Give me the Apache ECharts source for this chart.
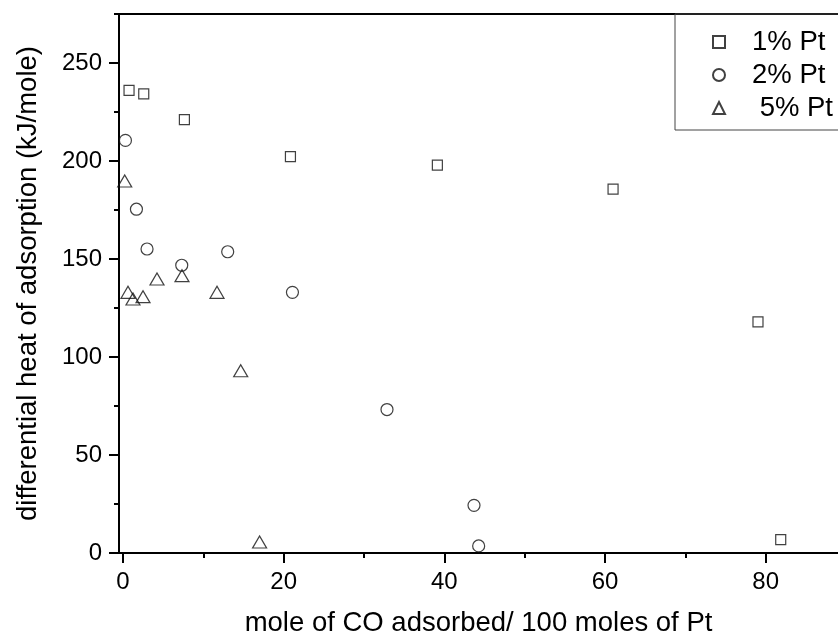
<!DOCTYPE html>
<html>
<head>
<meta charset="utf-8">
<script src="https://cdn.jsdelivr.net/npm/echarts@6/dist/echarts.min.js"></script>
<style>
html,body{margin:0;padding:0;background:#fff;}
#c{width:838px;height:642px;}
</style>
</head>
<body>
<div id="c"></div>
<script>
const seriesNames = ['1% Pt', '2% Pt', ' 5% Pt'];
const pt1 = [[0.75,236.0],[2.58,234.2],[7.64,221.1],[20.84,202.2],[39.13,197.9],[61.0,185.7],[79.04,117.9],[81.87,6.8]];
const pt2 = [[0.3,210.5],[1.67,175.4],[2.99,155.1],[7.31,146.8],[13.03,153.7],[21.09,133.0],[32.86,73.2],[43.69,24.3],[44.27,3.6]];
const pt5 = [[0.21,189.8],[0.62,133.0],[1.24,129.6],[2.49,130.8],[4.23,139.8],[7.34,141.5],[11.7,133.0],[14.65,93.0],[17.0,5.6]];
const xMajor = [0, 20, 40, 60, 80];
const xMinor = [10, 30, 50, 70];
const yMajor = [0, 50, 100, 150, 200, 250];
const yMinor = [25, 75, 125, 175, 225, 275];

const FONT = 'Liberation Sans, Arial, sans-serif';
const chart = echarts.init(document.getElementById('c'), null, {renderer: 'canvas'});
const markerStyle = {color: 'rgba(255,255,255,0)', borderColor: '#111', borderWidth: 1.2};
const axisLineStyle = {color: '#000', width: 2};

chart.setOption({
  animation: false,
  textStyle: {fontFamily: FONT, color: '#000'},
  grid: {left: 119, right: 0, top: 14, bottom: 87, containLabel: false},
  legend: {
    data: seriesNames,
    orient: 'vertical',
    left: 675, top: 14,
    padding: [14, 30, 8, 37],
    itemGap: 5,
    itemWidth: 12, itemHeight: 12,
    borderColor: '#444', borderWidth: 1,
    textStyle: {fontSize: 27.5, color: '#000', fontFamily: FONT, padding: [0, 0, 0, 22]},
    selectedMode: false
  },
  xAxis: [
    {
      type: 'value', min: -0.5, max: 89, position: 'bottom',
      name: 'mole of CO adsorbed/ 100 moles of Pt', nameLocation: 'middle', nameGap: 56,
      nameTextStyle: {fontSize: 27.5, color: '#000', fontFamily: FONT},
      axisLine: {show: true, onZero: false, lineStyle: axisLineStyle},
      axisTick: {show: true, inside: false, length: 10, customValues: xMajor, lineStyle: {color: '#000', width: 2}},
      axisLabel: {show: true, customValues: xMajor, fontSize: 24, margin: 17, color: '#000', fontFamily: FONT},
      splitLine: {show: false}
    },
    {
      type: 'value', min: -0.5, max: 89, position: 'bottom',
      axisLine: {show: false, onZero: false},
      axisTick: {show: true, inside: false, length: 5, customValues: xMinor, lineStyle: {color: '#000', width: 2}},
      axisLabel: {show: false, customValues: xMinor},
      splitLine: {show: false}
    },
    {
      type: 'value', min: -0.5, max: 89, position: 'top',
      axisLine: {show: true, onZero: false, lineStyle: axisLineStyle},
      axisTick: {show: false},
      axisLabel: {show: false},
      splitLine: {show: false}
    }
  ],
  yAxis: [
    {
      type: 'value', min: 0, max: 275, position: 'left',
      name: 'differential heat of adsorption (kJ/mole)', nameLocation: 'middle', nameGap: 77,
      nameTextStyle: {fontSize: 27.5, color: '#000', fontFamily: FONT},
      axisLine: {show: true, onZero: false, lineStyle: axisLineStyle},
      axisTick: {show: true, inside: false, length: 10, customValues: yMajor, lineStyle: {color: '#000', width: 2}},
      axisLabel: {show: true, customValues: yMajor, fontSize: 24, margin: 17, color: '#000', fontFamily: FONT},
      splitLine: {show: false}
    },
    {
      type: 'value', min: 0, max: 275, position: 'left',
      axisLine: {show: false, onZero: false},
      axisTick: {show: true, inside: false, length: 5, customValues: yMinor, lineStyle: {color: '#000', width: 2}},
      axisLabel: {show: false, customValues: yMinor},
      splitLine: {show: false}
    }
  ],
  series: [
    {name: seriesNames[0], type: 'scatter', xAxisIndex: 0, yAxisIndex: 0, symbol: 'rect', symbolSize: 10, itemStyle: markerStyle, data: pt1},
    {name: seriesNames[1], type: 'scatter', xAxisIndex: 0, yAxisIndex: 0, symbol: 'circle', symbolSize: 12, itemStyle: markerStyle, data: pt2},
    {name: seriesNames[2], type: 'scatter', xAxisIndex: 0, yAxisIndex: 0, symbol: 'triangle', symbolSize: [14, 12], itemStyle: markerStyle, data: pt5}
  ]
});
</script>
</body>
</html>
